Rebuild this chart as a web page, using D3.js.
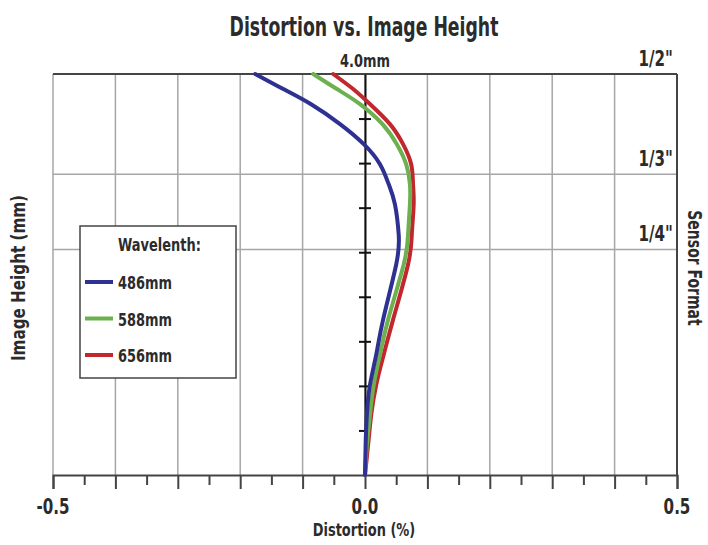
<!DOCTYPE html>
<html>
<head>
<meta charset="utf-8">
<script src="https://cdn.jsdelivr.net/npm/d3@7"></script>
<style>
  body { margin: 0; background: #fff; }
  text { font-family: "DejaVu Sans", sans-serif; fill: #2b2b2b; font-weight: bold; }
</style>
</head>
<body>
<div id="chart"></div>
<script>
// image height (mm) for each sampled point, top to bottom
const heights = [4.0, 3.85, 3.7, 3.5, 3.3, 3.1, 2.9, 2.7, 2.4, 2.1, 1.55, 1.2, 0.9, 0.6, 0.3, 0.0]
// distortion (%) per wavelength
const blue486 = [-0.176, -0.131, -0.087, -0.040, -0.002, 0.024, 0.038, 0.048, 0.054, 0.050, 0.029, 0.018, 0.008, 0.003, 0.001, 0.0]
const green588 = [-0.083, -0.045, -0.008, 0.028, 0.051, 0.066, 0.072, 0.072, 0.069, 0.062, 0.037, 0.024, 0.014, 0.008, 0.003, 0.0]
const red656 = [-0.051, -0.019, 0.008, 0.040, 0.061, 0.074, 0.077, 0.078, 0.075, 0.069, 0.045, 0.030, 0.018, 0.010, 0.005, 0.0]

const seriesNames = ['486mm', '588mm', '656mm']
const seriesColors = ['#2e3192', '#6db04f', '#c1272d']

const xTicks = ['-0.5', '0.0', '0.5']
const sensorFormats = [['1/2"', 4.0], ['1/3"', 3.0], ['1/4"', 2.25]]

const svgWidth = 708, svgHeight = 545
const margin = { top: 74, right: 31, bottom: 70, left: 53 }
const width = svgWidth - margin.left - margin.right
const height = svgHeight - margin.top - margin.bottom

const svg = d3.select('#chart').append('svg')
    .attr('width', svgWidth)
    .attr('height', svgHeight)

const g = svg.append('g')
    .attr('transform', 'translate(' + margin.left + ',' + margin.top + ')')

// condensed-looking label: squeeze the text horizontally
function label (parent, tx, ty, str, size, anchor, rot, squeeze) {
    return parent.append('text')
        .attr('transform', 'translate(' + tx + ',' + ty + ') rotate(' + (rot || 0) + ') scale(' + (squeeze || 0.72) + ',1)')
        .attr('text-anchor', anchor || 'middle')
        .style('font-size', size + 'px')
        .text(str)
}

const x = d3.scaleLinear().domain([-0.5, 0.5]).range([0, width])
const y = d3.scaleLinear().domain([0, 4.0]).range([height, 0])

// vertical grid
g.append('g').selectAll('line')
    .data(d3.range(-0.5, 0.51, 0.1))
    .enter().append('line')
    .attr('x1', d => x(d)).attr('x2', d => x(d))
    .attr('y1', 0).attr('y2', height)
    .attr('stroke', '#a6a6a6').attr('stroke-width', 1.5)

// horizontal grid at sensor formats
g.append('g').selectAll('line')
    .data(sensorFormats.slice(1))
    .enter().append('line')
    .attr('x1', 0).attr('x2', width)
    .attr('y1', d => y(d[1])).attr('y2', d => y(d[1]))
    .attr('stroke', '#a6a6a6').attr('stroke-width', 1.5)

// frame
g.append('line').attr('x1', 0).attr('x2', width).attr('y1', 0).attr('y2', 0)
    .attr('stroke', '#444').attr('stroke-width', 2)
g.append('line').attr('x1', width).attr('x2', width).attr('y1', 0).attr('y2', height)
    .attr('stroke', '#444').attr('stroke-width', 2)

// bottom axis
const xAxis = g.append('g')
    .attr('transform', 'translate(0,' + height + ')')
    .call(d3.axisBottom(x).tickValues(d3.range(-0.5, 0.51, 0.05)).tickSize(14).tickFormat(''))
xAxis.select('.domain').attr('stroke', '#444').attr('stroke-width', 2)
xAxis.selectAll('.tick line').attr('stroke', '#444').attr('stroke-width', 2)
    .attr('y2', (d, i) => i % 2 === 0 ? 14 : 10)

xTicks.forEach(t => label(g, x(+t), height + 39, t, 21))

// centre axis with height ticks
const yAxis = g.append('g')
    .attr('transform', 'translate(' + x(0) + ',0)')
    .call(d3.axisLeft(y).tickValues(d3.range(1, 9).map(k => 4.0 * k / 9)).tickSize(0).tickFormat(''))
yAxis.select('.domain').attr('stroke', '#111').attr('stroke-width', 2)
yAxis.selectAll('.tick line').attr('x1', -6).attr('x2', 6).attr('stroke', '#111').attr('stroke-width', 2)

// curves
const line = d3.line()
    .x(d => x(d[1]))
    .y(d => y(d[0]))
    .curve(d3.curveNatural)

const seriesData = [red656, green588, blue486]
const seriesOrder = [2, 1, 0]
g.append('g').selectAll('path')
    .data(seriesData)
    .enter().append('path')
    .attr('d', vals => line(heights.map((h, i) => [h, vals[i]])))
    .attr('fill', 'none')
    .attr('stroke', (d, i) => seriesColors[seriesOrder[i]])
    .attr('stroke-width', 4)
    .attr('stroke-linecap', 'round')

// 4.0mm label and sensor formats
label(g, x(0), -7, '4.0mm', 18)
sensorFormats.forEach(d => label(g, width - 4, y(d[1]) - 8, d[0], 21, 'end'))

// legend
const legend = g.append('g').attr('transform', 'translate(' + (80 - margin.left) + ',' + (226 - margin.top) + ')')
legend.append('rect')
    .attr('width', 156).attr('height', 152)
    .attr('fill', '#fff').attr('stroke', '#444').attr('stroke-width', 1.5)
label(legend, 38, 25, 'Wavelenth:', 18, 'start')
seriesNames.forEach((name, i) => {
    let item = legend.append('g').attr('transform', 'translate(0,' + (56 + i * 36.5) + ')')
    item.append('line')
        .attr('x1', 5).attr('x2', 33)
        .attr('stroke', seriesColors[i]).attr('stroke-width', 4)
    label(item, 38, 7, name, 18, 'start')
})

// titles
label(svg, 364, 36, 'Distortion vs. Image Height', 27, 'middle', 0, 0.64)
label(svg, 364, 536, 'Distortion (%)', 18)
label(svg, 25, 278, 'Image Height (mm)', 19, 'middle', -90, 0.8)
label(svg, 688, 268, 'Sensor Format', 20, 'middle', 90, 0.7)
</script>
</body>
</html>
